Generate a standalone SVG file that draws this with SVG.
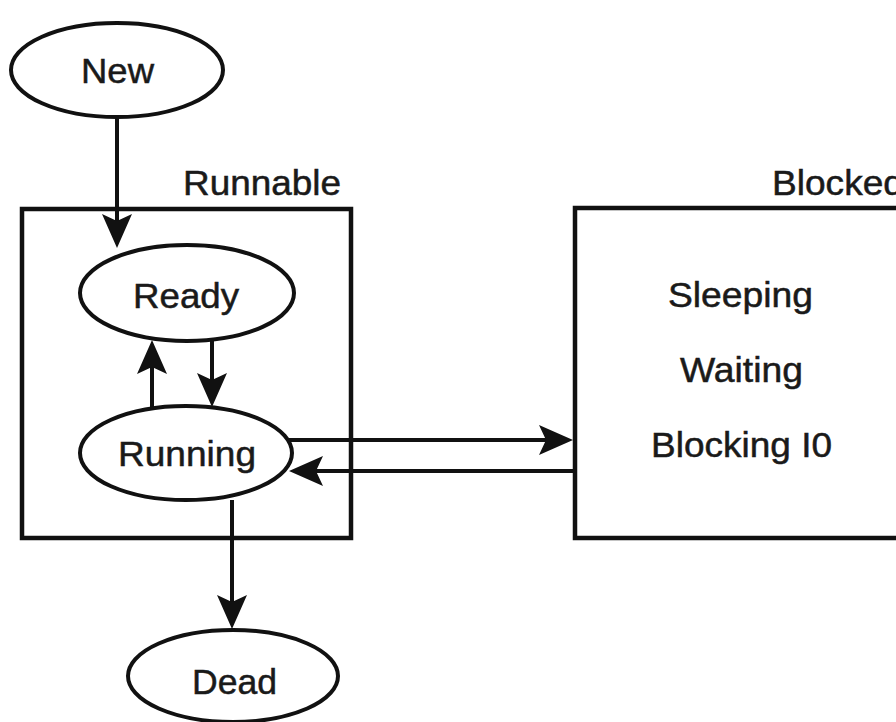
<svg xmlns="http://www.w3.org/2000/svg" width="896" height="722" viewBox="0 0 896 722">
  <defs>
    <style>
      .shape { fill: #ffffff; stroke: #111111; stroke-width: 4; }
      .box { fill: none; stroke: #111111; stroke-width: 4.5; }
      .conn { fill: none; stroke: #111111; stroke-width: 4; }
      .lbl { font-family: "Liberation Sans", Arial, Helvetica, sans-serif; font-size: 35px; fill: #1a1a1a; stroke: #1a1a1a; stroke-width: 0.5; }
    </style>
    <marker id="arrow" markerUnits="userSpaceOnUse" viewBox="-34 -16 34 32" refX="-8" refY="0" markerWidth="34" markerHeight="32" orient="auto">
      <path d="M0,0 L-34,-15 L-27,0 L-34,15 Z" fill="#111111"/>
    </marker>
  </defs>
  <rect x="0" y="0" width="896" height="722" fill="#ffffff"/>

  <g id="runnable">
    <rect class="box" x="22" y="209" width="329" height="329"/>
    <text class="lbl" x="183" y="195" textLength="158" lengthAdjust="spacingAndGlyphs">Runnable</text>
  </g>

  <g id="blocked">
    <rect class="box" x="575" y="208" width="340" height="330"/>
    <text class="lbl" x="772" y="195" textLength="132" lengthAdjust="spacingAndGlyphs">Blocked</text>
    <text class="lbl" x="668" y="307" textLength="145" lengthAdjust="spacingAndGlyphs">Sleeping</text>
    <text class="lbl" x="680" y="382" textLength="123" lengthAdjust="spacingAndGlyphs">Waiting</text>
    <text class="lbl" x="651" y="457" textLength="181" lengthAdjust="spacingAndGlyphs">Blocking I0</text>
  </g>

  <g id="connectors">
    <line class="conn" x1="117" y1="117" x2="117" y2="240" marker-end="url(#arrow)"/>
    <line class="conn" x1="152" y1="409" x2="152" y2="348" marker-end="url(#arrow)"/>
    <line class="conn" x1="212" y1="340" x2="212" y2="399" marker-end="url(#arrow)"/>
    <line class="conn" x1="288" y1="440" x2="565" y2="440" marker-end="url(#arrow)"/>
    <line class="conn" x1="575" y1="471" x2="297" y2="471" marker-end="url(#arrow)"/>
    <line class="conn" x1="232" y1="500" x2="232" y2="621" marker-end="url(#arrow)"/>
  </g>

  <g id="new">
    <ellipse class="shape" cx="117" cy="70" rx="106" ry="47"/>
    <text class="lbl" x="81" y="83" textLength="73" lengthAdjust="spacingAndGlyphs">New</text>
  </g>

  <g id="ready">
    <ellipse class="shape" cx="187" cy="293" rx="107" ry="48"/>
    <text class="lbl" x="133" y="308" textLength="106" lengthAdjust="spacingAndGlyphs">Ready</text>
  </g>

  <g id="running">
    <ellipse class="shape" cx="186" cy="453" rx="106" ry="47"/>
    <text class="lbl" x="118" y="466" textLength="138" lengthAdjust="spacingAndGlyphs">Running</text>
  </g>

  <g id="dead">
    <ellipse class="shape" cx="233" cy="676" rx="105" ry="46"/>
    <text class="lbl" x="192" y="694" textLength="85" lengthAdjust="spacingAndGlyphs">Dead</text>
  </g>
</svg>
